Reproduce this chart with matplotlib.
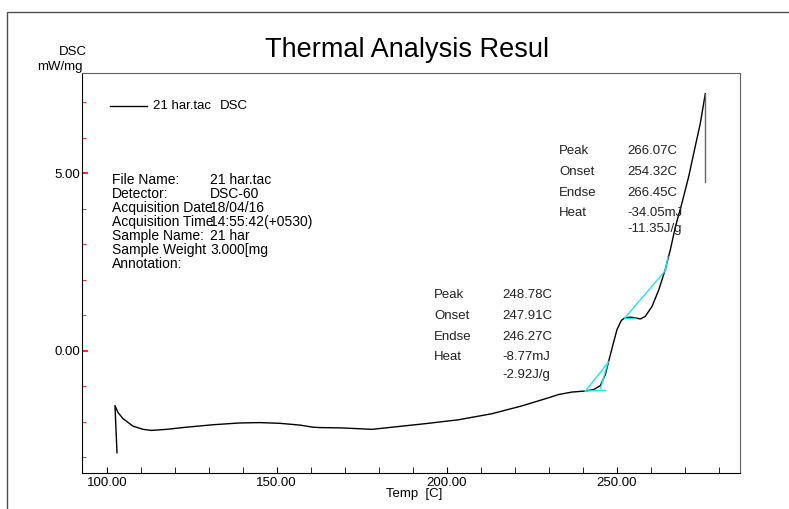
import matplotlib
matplotlib.use("Agg")
import matplotlib.pyplot as plt
from matplotlib.lines import Line2D
from matplotlib.patches import Rectangle
from matplotlib.ticker import MultipleLocator, FixedLocator

plt.rcParams["font.family"] = ["Liberation Sans", "DejaVu Sans"]

W, H = 789, 509

# DSC curve (temp in C, DSC in mW/mg)
temp = [103.0, 102.4, 103.3, 104.8, 107.7, 110.7, 113.1, 117.6, 123.4, 131.3,
        139.1, 145.0, 150.9, 156.8, 160.7, 162.6, 169.2, 178.0, 183.9, 193.7,
        203.5, 213.3, 222.1, 230.0, 232.9, 236.8, 240.8, 243.2, 245.2, 246.7,
        247.8, 248.8, 250.1, 251.4, 252.4, 254.0, 255.5, 257.0, 258.4, 260.4,
        262.4, 264.3, 265.8, 267.3, 269.2, 271.2, 273.1, 274.6, 276.1]
dsc = [-2.88, -1.55, -1.75, -1.92, -2.13, -2.22, -2.25, -2.22, -2.16, -2.09,
       -2.04, -2.03, -2.05, -2.10, -2.16, -2.17, -2.18, -2.22, -2.16, -2.06,
       -1.95, -1.78, -1.56, -1.33, -1.24, -1.17, -1.14, -1.10, -0.99, -0.67,
       -0.25, 0.12, 0.59, 0.85, 0.92, 0.94, 0.92, 0.89, 0.96, 1.24,
       1.71, 2.28, 2.84, 3.49, 4.15, 4.90, 5.74, 6.39, 7.24]
# end of run: drop back at the final temperature
end_temp = [276.1, 276.1]
end_dsc = [7.24, 4.76]

# tangent / baseline construction lines (cyan)
tangents = [
    ([240.8, 246.7], [-1.14, -1.12]),
    ([240.8, 247.4], [-1.14, -0.35]),
    ([245.3, 247.5], [-1.06, -0.31]),
    ([252.4, 264.6], [0.92, 2.28]),
    ([252.4, 255.5], [0.92, 0.92]),
    ([264.3, 265.1], [2.26, 2.64]),
]

info_labels = ["File Name:", "Detector:", "Acquisition Date", "Acquisition Time",
               "Sample Name:", "Sample Weight", "Annotation:"]
info_values = ["21 har.tac", "DSC-60", "18/04/16", "14:55:42(+0530)",
               "21 har", "3.000[mg", ""]

peak1_labels = ["Peak", "Onset", "Endse", "Heat", ""]
peak1_values = ["248.78C", "247.91C", "246.27C", "-8.77mJ", "-2.92J/g"]
peak2_labels = ["Peak", "Onset", "Endse", "Heat", ""]
peak2_values = ["266.07C", "254.32C", "266.45C", "-34.05mJ", "-11.35J/g"]

xticks_major = [100, 150, 200, 250]
xtick_labels = ["100.00", "150.00", "200.00", "250.00"]
yticks_major = [0, 5]
ytick_labels = ["0.00", "5.00"]


def fx(px):
    return px / W


def fy(py):
    return 1 - py / H


fig = plt.figure(figsize=(W / 100, H / 100), dpi=100)
fig.patch.set_facecolor("white")

# outer frame of the report page
fig.add_artist(Rectangle((fx(7), fy(530)), fx(800), fy(12) - fy(530),
                         transform=fig.transFigure, fill=False,
                         edgecolor="#505050", lw=1))

ax = fig.add_axes([fx(82), fy(473), fx(740) - fx(82), fy(73) - fy(473)])
ax.plot(temp, dsc, color="black", lw=1)
ax.plot(end_temp, end_dsc, color="#666666", lw=1)
for tx, ty in tangents:
    ax.plot(tx, ty, color="#22e6ee", lw=1)

ax.set_xlim(92.7, 286.3)
ax.set_ylim(-3.45, 7.82)

ax.xaxis.set_major_locator(FixedLocator(xticks_major))
ax.set_xticklabels(xtick_labels)
ax.xaxis.set_minor_locator(MultipleLocator(10))
ax.yaxis.set_major_locator(FixedLocator(yticks_major))
ax.set_yticklabels(ytick_labels)
ax.yaxis.set_minor_locator(MultipleLocator(1))

ax.tick_params(axis="x", which="both", direction="in", color="black",
               labelsize=9.5, pad=3)
ax.tick_params(axis="x", which="major", length=4)
ax.tick_params(axis="x", which="minor", length=4)
ax.tick_params(axis="y", which="both", direction="in", color="red",
               labelsize=9.5, pad=1)
ax.tick_params(axis="y", which="major", length=4, width=1.2)
ax.tick_params(axis="y", which="minor", length=3)

for side in ["left", "bottom"]:
    ax.spines[side].set_color("black")
for side in ["top", "right"]:
    ax.spines[side].set_color("#606060")

# title and axis labels
fig.text(fx(407), fy(50), "Thermal Analysis Resul", fontsize=19.5,
         ha="center", va="center")
fig.text(fx(87), fy(52), "DSC", fontsize=9.5, ha="right", va="center")
fig.text(fx(83), fy(67), "mW/mg", fontsize=9.5, ha="right", va="center")
fig.text(fx(414), fy(494), "Temp  [C]", fontsize=9.5, ha="center", va="center")

# legend
fig.add_artist(Line2D([fx(110), fx(147)], [fy(106), fy(106)],
                      transform=fig.transFigure, color="black", lw=1))
fig.text(fx(153), fy(106), "21 har.tac", fontsize=9.5, va="center")
fig.text(fx(220), fy(106), "DSC", fontsize=9.5, va="center")

# file information block
for i, (lab, val) in enumerate(zip(info_labels, info_values)):
    yy = 180 + i * 14
    fig.text(fx(112), fy(yy), lab, fontsize=10, va="center")
    fig.text(fx(210), fy(yy), val, fontsize=10, va="center")

# peak results
rows1 = [295, 316, 337, 357, 375]
for lab, val, yy in zip(peak1_labels, peak1_values, rows1):
    fig.text(fx(434), fy(yy), lab, fontsize=9.5, va="center", color="#222222")
    fig.text(fx(502), fy(yy), val, fontsize=9.5, va="center", color="#222222")
rows2 = [151, 172, 193, 213, 229]
for lab, val, yy in zip(peak2_labels, peak2_values, rows2):
    fig.text(fx(559), fy(yy), lab, fontsize=9.5, va="center", color="#222222")
    fig.text(fx(627), fy(yy), val, fontsize=9.5, va="center", color="#222222")

fig.savefig("out.png", dpi=100)
